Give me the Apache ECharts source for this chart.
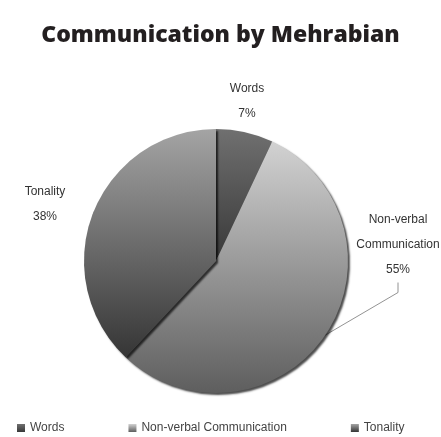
<!DOCTYPE html>
<html><head><meta charset="utf-8">
<script src="https://cdn.jsdelivr.net/npm/echarts@6/dist/echarts.min.js"></script>
<style>html,body{margin:0;padding:0;background:#fff}#c{width:441px;height:437px}</style>
</head><body><div id="c"></div>
<script>
const titleText = 'Communication by Mehrabian';
const categories = ['Words', 'Non-verbal Communication', 'Tonality'];
const labelNames = ['Words', 'Non-verbal\nCommunication', 'Tonality'];
const values = [7, 55, 38];

const grads = [
  ['#707070', '#383838'],
  ['#d2d2d2', '#5e5e5e'],
  ['#a4a4a4', '#353535']
];
const labelPos = [[247, 101], [398, 245], [45, 204]];

const chart = echarts.init(document.getElementById('c'));
chart.setOption({
  animation: false,
  title: {
    text: titleText, left: 'center', top: 19,
    textStyle: { fontFamily: 'Open Sans', fontWeight: 800, fontSize: 23, color: '#231f20', letterSpacing: -0.3 }
  },
  legend: {
    bottom: -2, left: 12, itemGap: 64, itemWidth: 8, itemHeight: 8, icon: 'rect',
    textStyle: { fontFamily: 'Liberation Sans', fontSize: 12, color: '#444', letterSpacing: -0.6 },
    data: categories
  },
  series: [{
    type: 'pie',
    center: [216, 261], radius: 132,
    startAngle: 90, clockwise: true,
    data: categories.map((c, i) => ({
      name: c, value: values[i],
      itemStyle: { color: new echarts.graphic.LinearGradient(0, 0, 0, 1, [
        { offset: 0, color: grads[i][0] }, { offset: 1, color: grads[i][1] }]) },
      labelLine: { show: i !== 0 }
    })),
    itemStyle: { borderWidth: 0, shadowColor: 'rgba(0,0,0,0.7)', shadowBlur: 2, shadowOffsetX: 2, shadowOffsetY: 2 },
    label: {
      formatter: p => labelNames[p.dataIndex] + '\n' + p.value + '%',
      fontFamily: 'Liberation Sans', fontSize: 12, color: '#333', lineHeight: 25, align: 'center',
      letterSpacing: -0.6, overflow: 'none', width: 120
    },
    labelLine: { show: true, length: 10, length2: 10, lineStyle: { color: '#777', width: 0.8 } },
    labelLayout: p => ({ x: labelPos[p.dataIndex][0], y: labelPos[p.dataIndex][1], align: 'center', verticalAlign: 'middle' }),
    emphasis: { disabled: true }
  }]
});
</script></body></html>
